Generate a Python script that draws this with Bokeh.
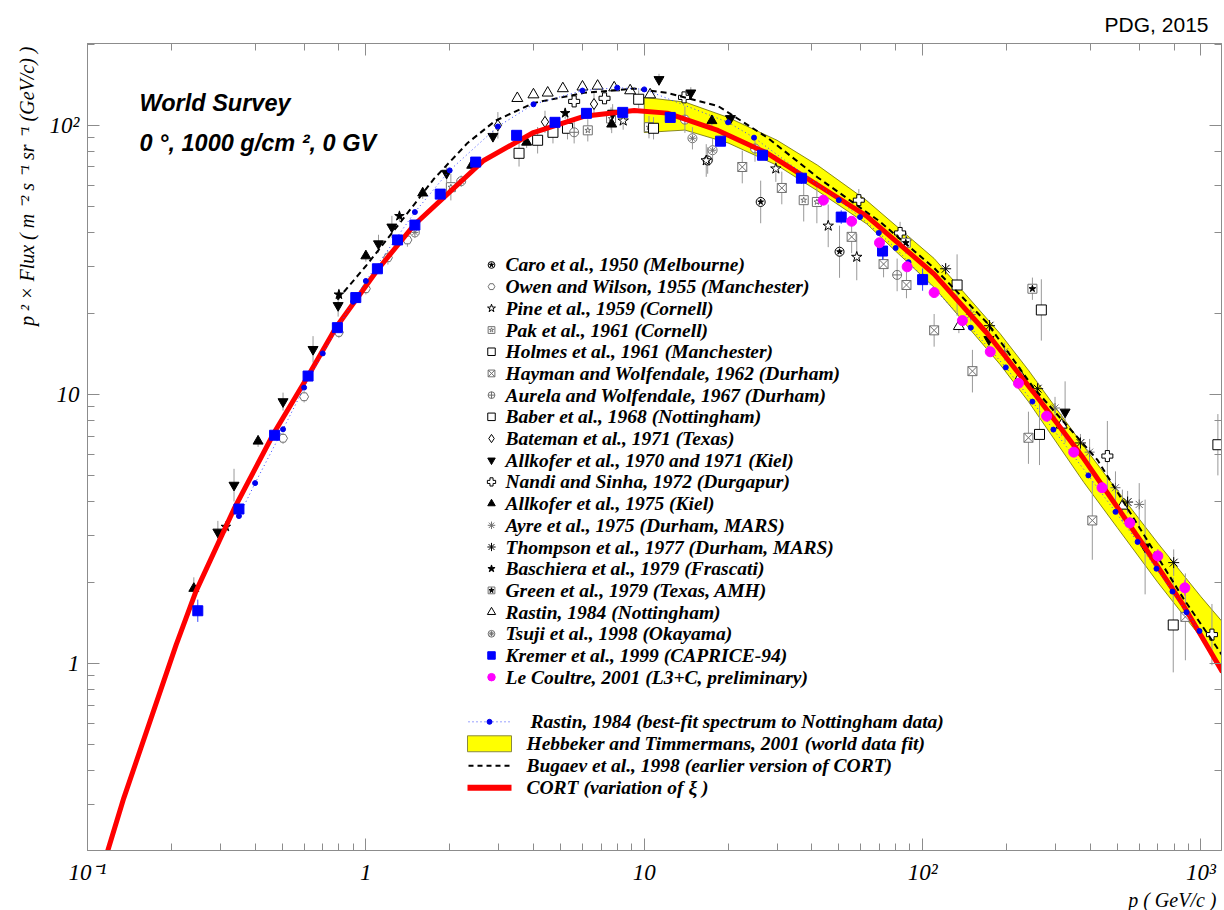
import math
from bokeh.plotting import figure
from bokeh.models import LogAxis, LogTicker, CustomJSTickFormatter, Label, Title
from bokeh.embed import file_html
from bokeh.resources import INLINE

# ---------------- data ----------------
# CORT (variation of xi) - red curve
cort_p = [0.118, 0.135, 0.208, 0.245, 0.336, 0.468, 0.62, 0.78, 1.10, 1.49, 1.86, 2.65, 4.0,
          6.07, 9.2, 12.1, 18.4, 27.7, 42, 63, 110, 171, 250, 378, 622, 866, 1194]
cort_f = [0.20, 0.316, 1.17, 1.85, 3.75, 7.2, 11.7, 17.7, 29, 42.6, 52.7, 74, 94,
          108, 113.6, 111, 95.7, 78.7, 60, 46, 28, 16.8, 10.2, 5.8, 2.75, 1.64, 0.93]
# Bugaev et al., 1998 - dashed curve
bug_p = [0.79, 1.0, 1.34, 1.75, 2.32, 2.92, 4.0, 6.07, 9.2, 12.1, 18.4, 27.7, 42, 70, 110,
         170, 250, 425, 866, 1194]
bug_f = [22.5, 30, 44, 63, 86, 104, 121, 132, 137, 132, 118, 90, 64, 44, 29.5,
         18.5, 10.6, 5.7, 1.74, 1.07]
# Rastin 1984 best-fit spectrum - blue dotted
rfit_p = [0.35, 0.40, 0.504, 0.60, 0.70, 0.90, 1.0, 1.5, 2.0, 2.98, 4.0, 6.0, 8.0, 10, 20,
          24.8, 50, 59.6, 69.6, 80, 89, 100, 149, 199, 248, 295, 394, 493, 592, 692, 790,
          887, 988]
rfit_f = [3.53, 4.68, 7.42, 10.6, 14.2, 22.1, 26.4, 47.6, 68, 99, 119.7, 134.6, 138, 136,
          102.6, 90, 52.7, 45.6, 39.8, 35, 31, 27.4, 17.7, 12.6, 9.4, 7.4, 5.0, 3.66, 2.83,
          2.25, 1.85, 1.55, 1.32]
# Hebbeker and Timmermans, 2001 - yellow band
band_p = [10, 14, 20, 30, 42, 63, 110, 190, 240, 380, 500, 700, 1000, 1185]
band_hi = [127, 122, 107, 88, 71, 52.5, 32, 16.8, 12.3, 6.4, 4.4, 2.8, 1.77, 1.44]
band_lo = [94, 96, 86, 71, 57, 43, 25, 12.9, 9.4, 4.7, 3.2, 2.0, 1.25, 0.98]

caro_p = [16.9, 26.2, 50.3]
caro_f = [74, 51.9, 33.9]
caro_e = [0.12, 0.2, 0.25]
owen_p = [0.504, 0.60, 0.80, 1.0, 1.2, 1.41]
owen_f = [6.87, 9.8, 17, 24.7, 32.2, 37.5]
owen_e = [0.05, 0.05, 0.05, 0.05, 0.06, 0.06]
pine_p = [8.4, 16.7, 29.7, 45.8, 58]
pine_f = [104, 74, 69, 42.3, 32.4]
pine_e = [0.08, 0.15, 0.12, 0.2, 0.22]
pak_p = [2.02, 6.27, 7.6, 10.4, 37.4, 41.7]
pak_f = [58.9, 95.8, 106, 98.4, 52.7, 51.9]
pak_e = [0.12, 0.1, 0.1, 0.1, 0.2, 0.2]
holmes_p = [3.55, 4.14, 4.7, 5.3, 9.55, 10.8]
holmes_f = [78.7, 88, 94.2, 97.5, 125, 97.5]
holmes_e = [0.12, 0.12, 0.1, 0.1, 0.08, 0.1]
hayman_p = [22.5, 31.2, 55.6, 72.4, 87.5, 110, 151, 240, 407, 879]
hayman_f = [70, 58.5, 38.5, 30.5, 25.5, 17.3, 12.2, 6.9, 3.4, 1.49]
hayman_e = [0.15, 0.15, 0.15, 0.12, 0.12, 0.15, 0.2, 0.25, 0.4, 0.45]
aurela_p = [5.6, 14, 25, 81]
aurela_f = [94.2, 105, 82, 27.8]
aurela_e = [0.1, 0.12, 0.12, 0.15]
baber_p = [133, 263, 267, 795, 1150]
baber_f = [25.5, 7.1, 20.6, 1.39, 6.5]
baber_e = [0.3, 0.3, 0.3, 0.5, 0.3]
bateman_p = [2.98, 4.4, 6.6]
bateman_f = [100, 103, 120]
bateman_e = [0.12, 0.1, 0.1]
allk70_p = [0.294, 0.336, 0.504, 0.646, 0.795, 1.11, 1.24, 1.95, 2.86, 7.7, 11.3, 14.7,
            20.4, 173, 325, 630]
allk70_f = [3.08, 4.6, 9.4, 14.7, 21.4, 36.3, 41.9, 66.4, 91, 111, 148, 132, 106, 16,
            8.6, 2.71]
allk70_e = [0.1, 0.15, 0.08, 0.12, 0.1, 0.08, 0.1, 0.08, 0.05, 0.08, 0.05, 0.05, 0.05,
            0.1, 0.3, 0.5]
nandi_p = [5.6, 7.2, 13.9, 59, 83, 461, 1095]
nandi_f = [122.7, 126, 127, 52.7, 39.8, 5.9, 1.28]
nandi_e = [0.05, 0.05, 0.05, 0.1, 0.1, 0.35, 0.3]
allk75_p = [0.241, 0.41, 1.0, 1.6, 2.4, 3.78, 7.64, 17.5]
allk75_f = [1.9, 6.7, 32.7, 56, 71, 86.5, 101, 104]
allk75_e = [0.1, 0.05, 0.05, 0.05, 0.05, 0.05, 0.08, 0.05]
ayre_p = [149, 197, 299, 398, 493, 600]
ayre_f = [19.8, 14.4, 8.9, 6.1, 4.5, 3.9]
ayre_e = [0.06, 0.08, 0.1, 0.12, 0.15, 0.2]
thomp_p = [121, 174, 259, 369, 545, 798]
thomp_f = [29.3, 18, 10.5, 6.6, 3.98, 2.37]
thomp_e = [0.05, 0.05, 0.06, 0.08, 0.1, 0.12]
basch_p = [0.314, 0.8, 1.32, 5.2, 87.5]
basch_f = [3.22, 23.5, 46, 111, 36.9]
basch_e = [0.05, 0.05, 0.05, 0.05, 0.08]
green_p = [87, 248]
green_f = [36.6, 24.7]
green_e = [0.1, 0.1]
rastin_p = [3.5, 4.0, 4.5, 5.1, 6.0, 6.8, 7.8, 8.9, 10.5, 135, 225, 316, 522]
rastin_f = [126, 130, 132, 137, 139, 140, 138, 134.6, 130, 17.9, 11.7, 7.7, 3.85]
rastin_e = [0.02, 0.02, 0.02, 0.02, 0.02, 0.02, 0.02, 0.02, 0.03, 0.06, 0.08, 0.1, 0.15]
tsuji_p = [1.5, 2.2, 14.9, 17.6]
tsuji_f = [40, 62, 89.5, 80.8]
tsuji_e = [0.05, 0.05, 0.1, 0.1]
kremer_p = [0.249, 0.35, 0.47, 0.62, 0.79, 0.92, 1.10, 1.30, 1.50, 1.85, 2.48, 3.48, 4.78,
            6.2, 8.37, 12.4, 18.8, 26.6, 36.7, 51, 71.8, 100]
kremer_f = [1.57, 3.75, 7.05, 11.7, 17.7, 22.9, 29.3, 37.5, 42.6, 55.5, 73, 91.8, 102.6,
            110.8, 111.7, 107, 87.3, 77.4, 63.6, 45.6, 34.1, 26.7]
kremer_e = [0.1, 0.04, 0.03, 0.03, 0.03, 0.03, 0.03, 0.03, 0.03, 0.03, 0.03, 0.03, 0.03,
            0.03, 0.03, 0.03, 0.04, 0.04, 0.05, 0.06, 0.08, 0.1]
lec_p = [44, 55.6, 70, 88, 110, 139, 175, 221, 279, 349, 441, 555, 700, 875]
lec_f = [52.7, 44, 36.6, 29.8, 23.9, 18.8, 14.4, 11.0, 8.3, 6.1, 4.5, 3.33, 2.51, 1.91]
lec_e = [0.02, 0.02, 0.02, 0.02, 0.02, 0.02, 0.03, 0.03, 0.03, 0.04, 0.04, 0.05, 0.06, 0.07]

legend_names = [
    "Caro et al., 1950 (Melbourne)",
    "Owen and Wilson, 1955 (Manchester)",
    "Pine et al., 1959 (Cornell)",
    "Pak et al., 1961 (Cornell)",
    "Holmes et al., 1961 (Manchester)",
    "Hayman and Wolfendale, 1962 (Durham)",
    "Aurela and Wolfendale, 1967 (Durham)",
    "Baber et al., 1968 (Nottingham)",
    "Bateman et al., 1971 (Texas)",
    "Allkofer et al., 1970 and 1971 (Kiel)",
    "Nandi and Sinha, 1972 (Durgapur)",
    "Allkofer et al., 1975 (Kiel)",
    "Ayre et al., 1975 (Durham, MARS)",
    "Thompson et al., 1977 (Durham, MARS)",
    "Baschiera et al., 1979 (Frascati)",
    "Green et al., 1979 (Texas, AMH)",
    "Rastin, 1984 (Nottingham)",
    "Tsuji et al., 1998 (Okayama)",
    "Kremer et al., 1999 (CAPRICE-94)",
    "Le Coultre, 2001 (L3+C, preliminary)",
]
curve_names = [
    "Rastin, 1984 (best-fit spectrum to Nottingham data)",
    "Hebbeker and Timmermans, 2001 (world data fit)",
    "Bugaev et al., 1998  (earlier version of CORT)",
    "CORT (variation of  \u03be )",
]

# ---------------- layout ----------------
W, H = 1224, 910
FL, FR, FT, FB = 87, 1221, 43, 852
XMIN, XMAX = 0.1, 1185.0
YMIN, YMAX = 0.2018, 201.4


def dx(cx):
    return 10 ** (math.log10(XMIN) + (cx - FL) / (FR - FL) * math.log10(XMAX / XMIN))


def dy(cy):
    return 10 ** (math.log10(YMIN) + (FB - cy) / (FB - FT) * math.log10(YMAX / YMIN))


p = figure(width=W, height=H, x_axis_type="log", y_axis_type="log",
           x_range=(XMIN, XMAX), y_range=(YMIN, YMAX),
           output_backend="svg", toolbar_location=None,
           min_border_left=FL, min_border_right=W - FR,
           min_border_top=FT, min_border_bottom=H - FB)
p.xgrid.visible = False
p.ygrid.visible = False
p.outline_line_color = "#8c8c8c"
p.background_fill_color = "white"
p.border_fill_color = "white"

fmt_code = r"""
const m = Math.round(Math.log10(tick));
const d = {"-1": "10\u207b\u00b9", "0": "1", "1": "10", "2": "10\u00b2", "3": "10\u00b3"};
return d[String(m)] || "";
"""
empty_code = "return '';"

GRAY = "#8c8c8c"


def style_axis(ax):
    ax.major_tick_in = 12
    ax.major_tick_out = 0
    ax.minor_tick_in = 7
    ax.minor_tick_out = 0
    ax.axis_line_color = GRAY
    ax.major_tick_line_color = GRAY
    ax.minor_tick_line_color = GRAY
    ax.major_label_text_font = "Liberation Serif"
    ax.major_label_text_font_style = "italic"
    ax.major_label_text_color = "black"


# main axes (grab them before adding the mirrored ones)
xa = p.below[0]
ya = p.left[0]
style_axis(xa)
xa.formatter = CustomJSTickFormatter(code=fmt_code)
xa.major_label_text_font_size = "23px"
xa.major_label_standoff = 9
style_axis(ya)
ya.formatter = CustomJSTickFormatter(code=fmt_code)
ya.major_label_text_font_size = "23px"
ya.major_label_standoff = 8

# mirrored tick axes (top / right)
for loc in ("above", "right"):
    ax = LogAxis(ticker=LogTicker(), formatter=CustomJSTickFormatter(code=empty_code))
    style_axis(ax)
    ax.major_label_text_font_size = "1px"
    ax.major_label_standoff = 0
    p.add_layout(ax, loc)

# titles outside the frame
p.add_layout(Title(text="PDG, 2015", align="right", offset=13, standoff=16,
                   text_font="Liberation Sans", text_font_style="normal",
                   text_font_size="21px", text_color="black"), "above")
p.add_layout(Title(text="p \u00b2 \u00d7 Flux  ( m \u207b\u00b2 s \u207b\u00b9 sr \u207b\u00b9 (GeV/c) )",
                   align="right", offset=-2, standoff=17,
                   text_font="Liberation Serif", text_font_style="italic",
                   text_font_size="20px", text_color="black"), "left")
p.add_layout(Title(text="p  ( GeV/c )", align="right", standoff=-1,
                   text_font="Liberation Serif", text_font_style="italic",
                   text_font_size="20px", text_color="black"), "below")

# ---------------- band ----------------
p.patch(band_p + band_p[::-1], band_hi + band_lo[::-1],
        fill_color="#ffff00", line_color="#6b6b00", line_width=0.8)


# ---------------- data series ----------------
def S(marker, size, fill, line, lw=1.0):
    return dict(marker=marker, size=size, fill_color=fill, line_color=line, line_width=lw)


G = "#707070"
series = [
    (caro_p, caro_f, caro_e, [S("circle", 9, "white", "black"), S("star", 6, "black", "black")]),
    (owen_p, owen_f, owen_e, [S("hex", 9, "white", G)]),
    (pine_p, pine_f, pine_e, [S("star", 11, "white", "black")]),
    (pak_p, pak_f, pak_e, [S("square", 9, "white", G), S("star", 6, "white", G)]),
    (holmes_p, holmes_f, holmes_e, [S("square", 10, "white", "black")]),
    (hayman_p, hayman_f, hayman_e, [S("square_x", 9, "white", G)]),
    (aurela_p, aurela_f, aurela_e, [S("circle_cross", 9, "white", G)]),
    (baber_p, baber_f, baber_e, [S("square", 10, "white", "black")]),
    (bateman_p, bateman_f, bateman_e, [S("diamond", 11, "white", "black")]),
    (allk70_p, allk70_f, allk70_e, [S("inverted_triangle", 10, "black", "black")]),
    (nandi_p, nandi_f, nandi_e, [S("plus", 11, "white", "black")]),
    (allk75_p, allk75_f, allk75_e, [S("triangle", 10, "black", "black")]),
    (ayre_p, ayre_f, ayre_e, [S("asterisk", 10, None, G)]),
    (thomp_p, thomp_f, thomp_e, [S("asterisk", 11, None, "black")]),
    (basch_p, basch_f, basch_e, [S("star", 10, "black", "black")]),
    (green_p, green_f, green_e, [S("square", 9, "white", G), S("star", 7, "black", "black")]),
    (rastin_p, rastin_f, rastin_e, [S("triangle", 11, "white", "black")]),
    (tsuji_p, tsuji_f, tsuji_e, [S("circle", 9, "white", G), S("asterisk", 7, None, G)]),
    (kremer_p, kremer_f, kremer_e, [S("square", 10, "#0000ff", "#0000ff")]),
    (lec_p, lec_f, lec_e, [S("circle", 10, "#ff00ff", "#ff00ff")]),
]


def draw_markers(xs, ys, layers, scale=1.0):
    for L in layers:
        kw = dict(L)
        kw["size"] = L["size"] * scale
        if kw["fill_color"] is None:
            kw.pop("fill_color")
            kw["fill_alpha"] = 0
        p.scatter(xs, ys, **kw)


def draw_errors(xs, ys, es, color):
    lo = [y / (1 + e) for y, e in zip(ys, es)]
    hi = [y * (1 + e) for y, e in zip(ys, es)]
    p.segment(x0=xs, y0=lo, x1=xs, y1=hi, line_color=color, line_width=1)


# older measurements
for xs, ys, es, layers in series[:18]:
    draw_errors(xs, ys, es, "#999999")
for xs, ys, es, layers in series[:18]:
    draw_markers(xs, ys, layers)

# curves
p.line(cort_p, cort_f, line_color="#ff0000", line_width=5)
p.line(bug_p, bug_f, line_color="black", line_width=2, line_dash="6 4")
p.line(rfit_p, rfit_f, line_color="#3344ff", line_width=1, line_dash="1 3")
p.scatter(rfit_p, rfit_f, marker="circle", size=5, fill_color="#0000ee", line_color="#0000ee")

# recent measurements on top
draw_errors(kremer_p, kremer_f, kremer_e, "#3344ff")
draw_markers(kremer_p, kremer_f, series[18][3])
draw_errors(lec_p, lec_f, lec_e, "#ff00ff")
draw_markers(lec_p, lec_f, series[19][3])

# ---------------- legend ----------------
LEG_FONT = "Liberation Serif"
LEG_SIZE = "19.5px"
row0, step = 265.0, 21.75
for i, (name, (_, _, _, layers)) in enumerate(zip(legend_names, series)):
    cy = row0 + i * step
    draw_markers([dx(491)], [dy(cy)], layers, scale=0.75)
    p.add_layout(Label(x=dx(505), y=dy(cy), text=name, text_font=LEG_FONT,
                       text_font_style="bold italic", text_font_size=LEG_SIZE,
                       text_baseline="middle", text_align="left", text_color="black"))

# curve legend
p.line([dx(468), dx(510)], [dy(723), dy(723)], line_color="#3344ff", line_width=1,
       line_dash="1 3")
p.scatter([dx(489)], [dy(723)], marker="circle", size=5, fill_color="#0000ee",
          line_color="#0000ee")
p.quad(left=dx(467), right=dx(511), top=dy(737), bottom=dy(753),
       fill_color="#ffff00", line_color="#8a8a40", line_width=1)
p.line([dx(468), dx(510)], [dy(767), dy(767)], line_color="black", line_width=2,
       line_dash="5 4")
p.line([dx(467), dx(511)], [dy(789), dy(789)], line_color="#ff0000", line_width=6)
for name, cy, cx in zip(curve_names, [723, 745, 767, 789], [530, 526, 526, 526]):
    p.add_layout(Label(x=dx(cx), y=dy(cy), text=name, text_font=LEG_FONT,
                       text_font_style="bold italic", text_font_size=LEG_SIZE,
                       text_baseline="middle", text_align="left", text_color="black"))

# ---------------- texts inside frame ----------------
p.add_layout(Label(x=dx(139), y=dy(103), text="World Survey", text_font="Liberation Sans",
                   text_font_style="bold italic", text_font_size="23.5px",
                   text_baseline="middle", text_color="black"))
p.add_layout(Label(x=dx(139), y=dy(143), text="0 \u00b0, 1000 g/cm \u00b2, 0 GV",
                   text_font="Liberation Sans", text_font_style="bold italic",
                   text_font_size="23.5px", text_baseline="middle", text_color="black"))

with open("out.html", "w", encoding="utf-8") as f:
    f.write(file_html(p, INLINE))
